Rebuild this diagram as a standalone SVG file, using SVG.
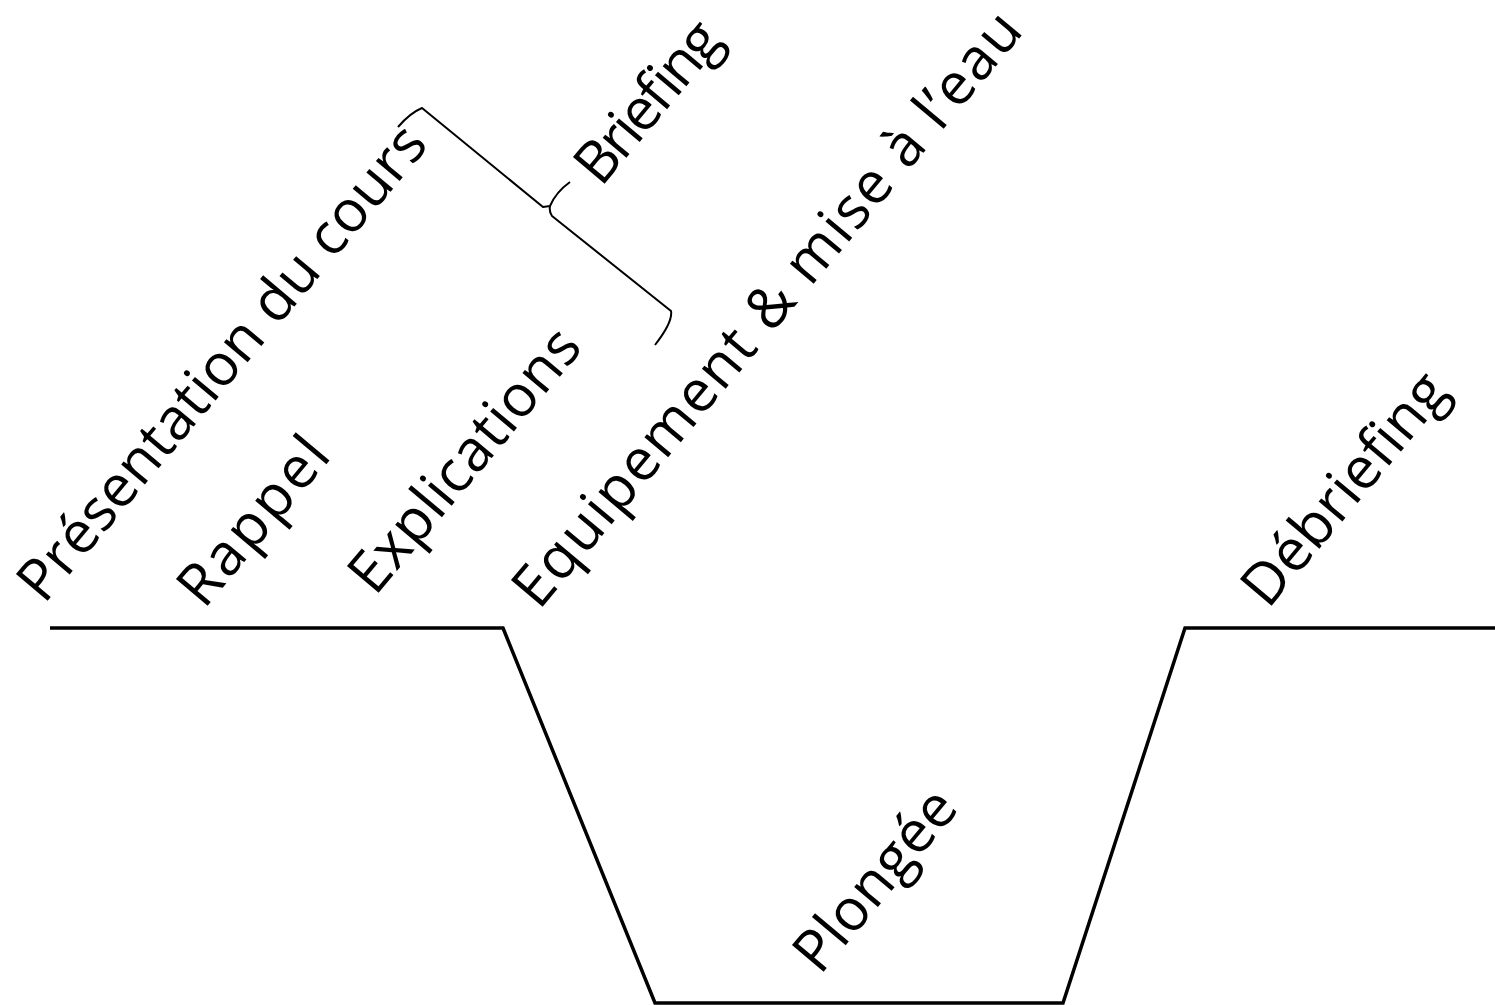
<svg xmlns="http://www.w3.org/2000/svg" width="1495" height="1005" viewBox="0 0 1495 1005">
<style>
.lbl{font-family:"Open Sans","DejaVu Sans",sans-serif;font-size:58px;fill:#000}
.prof{fill:none;stroke:#000;stroke-width:3.5;stroke-linejoin:miter}
.brace{fill:none;stroke:#000;stroke-width:2;stroke-linejoin:round}
</style>
<rect width="1495" height="1005" fill="#fff"/>
<g id="connectors">
<polyline class="prof" points="50,628 503,628 655,1003 1063,1003 1185,628 1495,628"/>
<path class="brace" d="M398,127 Q410,113 422,108 L543,207 L550,206 Q556,192 570,182 M550,206 Q549,212 552,216 L671,311 Q673,322 655,345"/>
</g>
<g id="presentation"><text class="lbl" transform="translate(44,605) rotate(-50)" textLength="600" lengthAdjust="spacing">Présentation du cours</text></g>
<g id="rappel"><text class="lbl" transform="translate(204,610) rotate(-50)" textLength="200" lengthAdjust="spacing">Rappel</text></g>
<g id="explications"><text class="lbl" transform="translate(375,597) rotate(-50)" textLength="325" lengthAdjust="spacing">Explications</text></g>
<g id="equipement"><text class="lbl" transform="translate(539,611) rotate(-50)" textLength="756" lengthAdjust="spacing">Equipement &amp; mise à l’eau</text></g>
<g id="briefing"><text class="lbl" transform="translate(601,188) rotate(-50)" textLength="192" lengthAdjust="spacing">Briefing</text></g>
<g id="debriefing"><text class="lbl" transform="translate(1268,610) rotate(-50)" textLength="284" lengthAdjust="spacing">Débriefing</text></g>
<g id="plongee"><text class="lbl" transform="translate(820,976) rotate(-50)" textLength="218" lengthAdjust="spacing">Plongée</text></g>
</svg>
